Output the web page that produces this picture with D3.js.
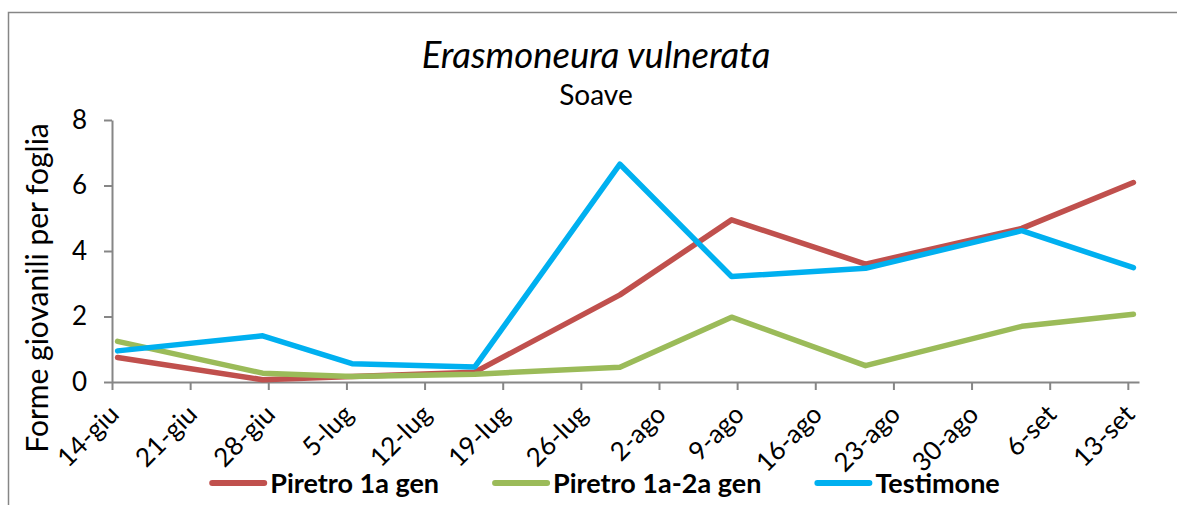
<!DOCTYPE html>
<html>
<head>
<meta charset="utf-8">
<script src="https://cdn.jsdelivr.net/npm/d3@7"></script>
<style>
  body { margin: 0; background: #fff; }
  svg { display: block; font-family: Lato, "Open Sans", sans-serif; }
</style>
</head>
<body>
<svg id="chart" width="1177" height="505"></svg>
<script>
// ── data ────────────────────────────────────────────────────────
const sampleDates = ["2012-06-14", "2012-06-27", "2012-07-05", "2012-07-16", "2012-07-29",
  "2012-08-08", "2012-08-20", "2012-09-03", "2012-09-13"];
const piretro1 = [0.75, 0.07, 0.17, 0.3, 2.66, 4.95, 3.6, 4.69, 6.09];
const piretro12 = [1.24, 0.27, 0.17, 0.24, 0.45, 1.98, 0.5, 1.7, 2.07];
const testimone = [0.95, 1.41, 0.56, 0.46, 6.65, 3.22, 3.47, 4.62, 3.49];
const seriesNames = ["Piretro 1a gen", "Piretro 1a-2a gen", "Testimone"];
const seriesColors = ["#C0504D", "#9BBB59", "#00B0F0"];
const yTicks = [0, 2, 4, 6, 8];
const xTickLabels = ["14-giu", "21-giu", "28-giu", "5-lug", "12-lug", "19-lug", "26-lug",
  "2-ago", "9-ago", "16-ago", "23-ago", "30-ago", "6-set", "13-set"];
const axisStart = "2012-06-14", axisEnd = "2012-09-14";

const W = 1177, H = 505;
const M = { left: 112, right: 1139, top: 120, bottom: 382 };
const GRAY = "#868686";

const svg = d3.select("#chart");
const parse = d3.utcParse("%Y-%m-%d");

// frame (bottom and right edges are cut off in the original)
svg.append("rect")
  .attr("x", 8.5).attr("y", 12.5)
  .attr("width", W + 20).attr("height", H + 20)
  .attr("fill", "none").attr("stroke", GRAY).attr("stroke-width", 1.5);

const x = d3.scaleUtc()
  .domain([parse(axisStart), parse(axisEnd)])
  .range([M.left, M.right]);

const y = d3.scaleLinear().domain([0, 8]).range([M.bottom, M.top]);

// ── axes ────────────────────────────────────────────────────────
const yAxis = svg.append("g")
  .attr("transform", `translate(${M.left},0)`)
  .call(d3.axisLeft(y).tickValues(yTicks).tickSize(8).tickSizeOuter(0).tickPadding(17));
yAxis.selectAll("text").attr("font-size", 26).attr("fill", "#000").attr("font-family", "Lato");

const tickDates = d3.utcDay.range(parse(axisStart), parse(axisEnd), 7);
const xAxis = svg.append("g")
  .attr("transform", `translate(0,${M.bottom})`)
  .call(d3.axisBottom(x).tickValues(tickDates).tickSize(8).tickSizeOuter(0)
    .tickFormat((d, i) => xTickLabels[i]));
xAxis.selectAll("text")
  .attr("font-size", 26).attr("fill", "#000").attr("font-family", "Lato")
  .attr("text-anchor", "end")
  .attr("dy", null).attr("y", null)
  .attr("transform", "translate(8,34) rotate(-45)");

svg.selectAll(".domain, .tick line").attr("stroke", GRAY).attr("stroke-width", 2);

// ── lines ───────────────────────────────────────────────────────
const pts = sampleDates.map(parse);
const line = d3.line()
  .x((d, i) => x(d3.utcHour.offset(pts[i], 12)))
  .y(d => y(d));

[piretro1, piretro12, testimone].forEach((vals, k) => {
  svg.append("path")
    .datum(vals)
    .attr("d", line)
    .attr("fill", "none")
    .attr("stroke", seriesColors[k])
    .attr("stroke-width", 5.5)
    .attr("stroke-linecap", "round")
    .attr("stroke-linejoin", "round");
});

// ── titles ──────────────────────────────────────────────────────
svg.append("text")
  .attr("x", 596).attr("y", 68)
  .attr("text-anchor", "middle").attr("font-size", 36.5).attr("font-style", "italic")
  .text("Erasmoneura vulnerata");
svg.append("text")
  .attr("x", 596).attr("y", 105)
  .attr("text-anchor", "middle").attr("font-size", 28)
  .text("Soave");

svg.append("text")
  .attr("transform", `translate(48,288) rotate(-90)`)
  .attr("text-anchor", "middle").attr("font-size", 30)
  .text("Forme giovanili per foglia");

// ── legend ──────────────────────────────────────────────────────
const legend = svg.append("g").attr("transform", "translate(0,483)");
const sampleLen = 52, textGap = 6, itemGap = 56;
const items = legend.selectAll("g").data(seriesNames).join("g");
items.append("line")
  .attr("x1", 0).attr("x2", sampleLen)
  .attr("stroke", (d, i) => seriesColors[i])
  .attr("stroke-width", 6).attr("stroke-linecap", "round");
items.append("text")
  .attr("x", sampleLen + textGap).attr("dy", "0.36em")
  .attr("font-size", 27).attr("font-weight", "bold")
  .text(d => d);

let cx = 0;
const widths = [];
items.each(function () {
  widths.push(sampleLen + textGap + this.querySelector("text").getComputedTextLength());
});
const total = d3.sum(widths) + itemGap * (widths.length - 1);
cx = 606 - total / 2;
items.attr("transform", (d, i) => {
  const tx = cx;
  cx += widths[i] + itemGap;
  return `translate(${tx},0)`;
});
</script>
</body>
</html>
